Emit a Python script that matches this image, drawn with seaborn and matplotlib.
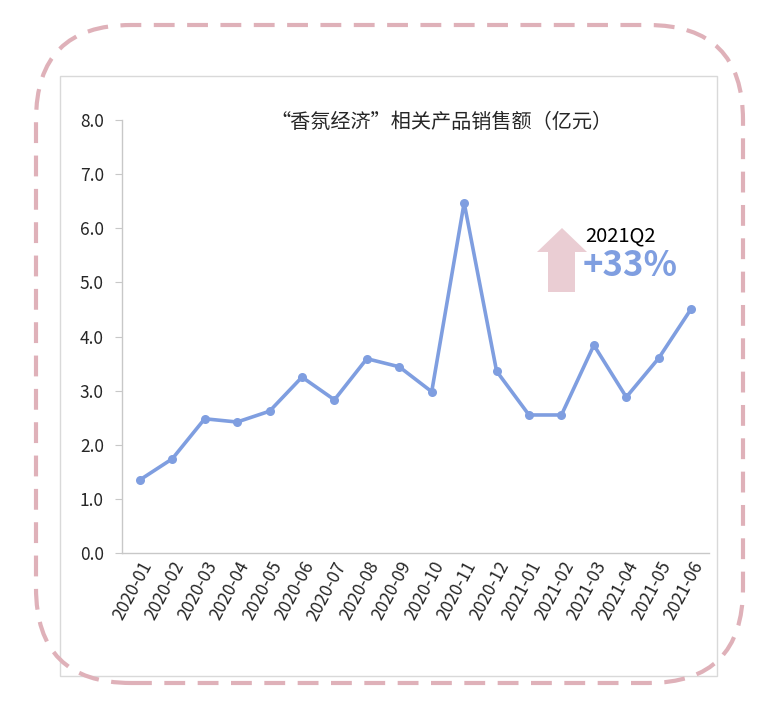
import matplotlib
matplotlib.use("Agg")
import pandas as pd
import numpy as np
import matplotlib.pyplot as plt
import seaborn as sns
from matplotlib.patches import FancyBboxPatch, Rectangle, Polygon
from matplotlib.transforms import IdentityTransform

# données
mois = ["2020-01", "2020-02", "2020-03", "2020-04", "2020-05", "2020-06",
        "2020-07", "2020-08", "2020-09", "2020-10", "2020-11", "2020-12",
        "2021-01", "2021-02", "2021-03", "2021-04", "2021-05", "2021-06"]
ventes = [1.35, 1.74, 2.48, 2.42, 2.62, 3.25, 2.83, 3.59, 3.44, 2.98,
          6.47, 3.36, 2.55, 2.55, 3.84, 2.88, 3.60, 4.51]
titre = "“香氛经济”相关产品销售额（亿元）"
trimestre = "2021Q2"
hausse = "+33%"

data = pd.DataFrame({"mois": mois, "ventes": ventes})

sns.set_style("white")
plt.rcParams['font.family'] = ['Noto Sans CJK SC', 'DejaVu Sans']

fig = plt.figure(figsize=(7.72, 7.08), dpi=100)
ax = fig.add_axes([122 / 772, 1 - 553 / 708, (709 - 122) / 772, (553 - 120) / 708])

bleu = "#7f9ee0"
sns.lineplot(data=data, x="mois", y="ventes", ax=ax, color=bleu, linewidth=2.6,
             marker="o", markersize=6.5, markeredgewidth=0, sort=False)

ax.set_ylim(0, 8)
ax.set_xlim(-0.55, len(mois) - 0.45)
ax.set_yticks(np.arange(0, 9, 1))
ax.set_yticklabels([f"{v:.1f}" for v in np.arange(0, 9, 1)], fontsize=12.5)
ax.set_xticks(range(len(mois)))
ax.set_xticklabels(mois, rotation=62, ha="right", rotation_mode="anchor", fontsize=12.5)
ax.set_xlabel("")
ax.set_ylabel("")
for s in ["top", "right"]:
    ax.spines[s].set_visible(False)
for s in ["left", "bottom"]:
    ax.spines[s].set_color("#c8c8c8")
    ax.spines[s].set_linewidth(1)
ax.tick_params(axis="y", length=5, color="#c8c8c8", left=True, pad=8)
ax.tick_params(axis="x", length=0, pad=4)
ax.set_facecolor("none")

# titre
fig.text(441 / 772, 1 - 122 / 708, titre, ha="center", va="center", fontsize=14.5)

# cadres en pixels
cadre = Rectangle((60, 708 - 676), 657, 600, transform=IdentityTransform(),
                  fill=False, edgecolor="#d9d9d9", linewidth=1)
fig.patches.append(cadre)
pointille = FancyBboxPatch((36, 708 - 683), 707, 658, boxstyle="round,pad=0,rounding_size=95",
                           transform=IdentityTransform(), fill=False, edgecolor="#dfb1b9",
                           linewidth=3, linestyle=(0, (5, 3)))
fig.patches.append(pointille)

# flèche
fleche = Polygon([(548, 708 - 292), (575, 708 - 292), (575, 708 - 252), (587, 708 - 252),
                  (562, 708 - 228), (537, 708 - 252), (548, 708 - 252)],
                 closed=True, transform=IdentityTransform(), facecolor="#eacdd3", edgecolor="none")
fig.patches.append(fleche)
fig.text(585 / 772, 1 - 236 / 708, trimestre, ha="left", va="center", fontsize=14.5, color="black")
fig.text(583 / 772, 1 - 265 / 708, hausse, ha="left", va="center", fontsize=25,
         fontweight="bold", color=bleu)

fig.savefig("out.png", dpi=100)
